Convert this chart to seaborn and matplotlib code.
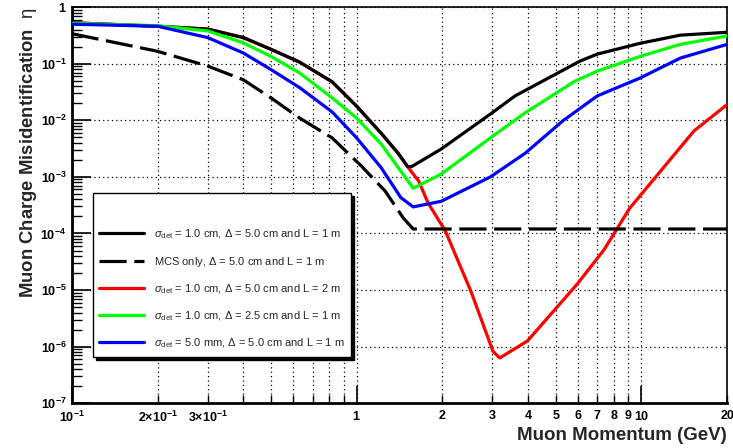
import pandas as pd
import seaborn as sns
import matplotlib.pyplot as plt

# ------------------------------
# Data
# ------------------------------

# sigma_det = 1.0 cm, Delta = 5.0 cm, L = 1 m
black_x = [0.1, 0.2, 0.3, 0.4, 0.5, 0.63, 0.82, 1.0, 1.22, 1.4, 1.51, 1.56,
           1.98, 2.95, 3.6, 6.1, 7.0, 9.9, 13.7, 20]
black_y = [0.53, 0.46, 0.41, 0.29, 0.18, 0.107, 0.048, 0.0178, 0.0059, 0.0026,
           0.00152, 0.00152, 0.0031, 0.0129, 0.027, 0.112, 0.148, 0.23,
           0.32, 0.36]

# MCS only
mcs_x = [0.1, 0.2, 0.3, 0.4, 0.5, 0.63, 0.82, 1.04, 1.26, 1.46, 1.58, 20]
mcs_y = [0.34, 0.166, 0.091, 0.052, 0.025, 0.011, 0.0049, 0.00155, 0.00056,
         0.000186, 0.00012, 0.00012]

# sigma_det = 1.0 cm, Delta = 5.0 cm, L = 2 m
red_x = [0.1, 0.2, 0.3, 0.4, 0.5, 0.63, 0.82, 1.0, 1.22, 1.4, 1.51, 1.65,
         1.78, 2.05, 2.52, 3.01, 3.18, 3.98, 5.97, 7.4, 9.1, 15.3, 20]
red_y = [0.53, 0.46, 0.41, 0.29, 0.18, 0.107, 0.048, 0.0178, 0.0059, 0.0026,
         0.00152, 0.00085, 0.00035, 0.00011, 9.5e-6, 8.3e-7, 6.3e-7, 1.26e-6,
         1.3e-5, 5.2e-5, 2.8e-4, 6.5e-3, 1.9e-2]

# sigma_det = 1.0 cm, Delta = 2.5 cm, L = 1 m
green_x = [0.1, 0.2, 0.3, 0.4, 0.5, 0.63, 0.82, 1.0, 1.22, 1.43, 1.58,
           1.98, 2.95, 3.9, 5.83, 7.0, 9.9, 13.7, 20]
green_y = [0.52, 0.47, 0.38, 0.234, 0.135, 0.069, 0.025, 0.011, 0.0038,
           0.00126, 0.00063, 0.00112, 0.0049, 0.0135, 0.049, 0.074,
           0.135, 0.22, 0.31]

# sigma_det = 5.0 mm, Delta = 5.0 cm, L = 1 m
blue_x = [0.1, 0.2, 0.3, 0.4, 0.5, 0.63, 0.82, 1.0, 1.22, 1.43, 1.58,
          1.98, 2.95, 3.9, 5.3, 7.0, 9.9, 13.7, 20]
blue_y = [0.5, 0.46, 0.29, 0.155, 0.079, 0.038, 0.0141, 0.0049, 0.00145,
          0.00043, 0.000295, 0.00037, 0.00100, 0.0026, 0.0098, 0.027,
          0.056, 0.126, 0.22]

labels = [
    r"$\sigma_{\rm det}$ = 1.0 cm, $\Delta$ = 5.0 cm and L = 1 m",
    r"MCS only, $\Delta$ = 5.0 cm and L = 1 m",
    r"$\sigma_{\rm det}$ = 1.0 cm, $\Delta$ = 5.0 cm and L = 2 m",
    r"$\sigma_{\rm det}$ = 1.0 cm, $\Delta$ = 2.5 cm and L = 1 m",
    r"$\sigma_{\rm det}$ = 5.0 mm, $\Delta$ = 5.0 cm and L = 1 m",
]

x_major = [0.1, 1, 10]
x_major_labels = [r"$\mathbf{10^{-1}}$", r"$\mathbf{1}$", r"$\mathbf{10}$"]
x_minor = [0.2, 0.3, 0.4, 0.5, 0.6, 0.7, 0.8, 0.9,
           2, 3, 4, 5, 6, 7, 8, 9, 20]
x_minor_labels = [r"$\mathbf{2{\times}10^{-1}}$", r"$\mathbf{3{\times}10^{-1}}$",
                  "", "", "", "", "", "",
                  "2", "3", "4", "5", "6", "7", "8", "9", "20"]
y_major = [1e-7, 1e-6, 1e-5, 1e-4, 1e-3, 1e-2, 1e-1, 1]
y_major_labels = [r"$\mathbf{10^{-7}}$", r"$\mathbf{10^{-6}}$", r"$\mathbf{10^{-5}}$",
                  r"$\mathbf{10^{-4}}$", r"$\mathbf{10^{-3}}$", r"$\mathbf{10^{-2}}$",
                  r"$\mathbf{10^{-1}}$", r"$\mathbf{1}$"]

# ------------------------------
# Style
# ------------------------------

sns.set_theme(style="white")
plt.rcParams["font.family"] = ["Liberation Sans", "DejaVu Sans"]
plt.rcParams["mathtext.fontset"] = "custom"
plt.rcParams["mathtext.rm"] = "Liberation Sans"
plt.rcParams["mathtext.it"] = "Liberation Sans:italic"
plt.rcParams["mathtext.bf"] = "Liberation Sans:bold"

fig = plt.figure(figsize=(7.33, 4.48), dpi=100)
ax = fig.add_axes([0.098, 0.1, 0.894, 0.884])

lw = 2.3
sns.lineplot(x=black_x, y=black_y, color="black", lw=lw, label=labels[0],
             sort=False, zorder=4, ax=ax)
sns.lineplot(x=mcs_x, y=mcs_y, color="black", lw=lw, label=labels[1],
             linestyle=(0, (8.5, 2.4)), sort=False, zorder=4, ax=ax)
sns.lineplot(x=red_x, y=red_y, color="#ff0000", lw=lw, label=labels[2],
             sort=False, zorder=3, ax=ax)
sns.lineplot(x=green_x, y=green_y, color="#00ff00", lw=lw, label=labels[3],
             sort=False, zorder=4, ax=ax)
sns.lineplot(x=blue_x, y=blue_y, color="#0000ff", lw=lw, label=labels[4],
             sort=False, zorder=4, ax=ax)

ax.set_xscale("log")
ax.set_yscale("log")
ax.set_xlim(0.1, 20)
ax.set_ylim(1e-7, 1)

ax.set_xticks(x_major, x_major_labels)
ax.set_xticks(x_minor, x_minor_labels, minor=True)
ax.set_yticks(y_major, y_major_labels)
y_minor = [m * d for d in y_major[:-1] for m in range(2, 10)]
ax.set_yticks(y_minor, minor=True)
ax.yaxis.set_minor_formatter(plt.NullFormatter())

ax.tick_params(which="both", direction="in", colors="black",
               labelsize=9, bottom=True, left=True)
ax.tick_params(axis="x", which="major", length=12, width=1.2, pad=5)
ax.tick_params(axis="x", which="minor", length=6, width=1, pad=5)
ax.tick_params(axis="y", which="major", length=14, width=1.2, pad=4)
ax.tick_params(axis="y", which="minor", length=7, width=1)
for t in ax.get_xticklabels(minor=True):
    t.set_fontweight("bold")

ax.grid(which="major", axis="both", ls=(0, (1, 2.5)), color="black", lw=0.9)
ax.grid(which="minor", axis="x", ls=(0, (1, 2.5)), color="black", lw=0.9)

for side in ["left", "bottom"]:
    ax.spines[side].set_linewidth(2)
for side in ["top", "right"]:
    ax.spines[side].set_linewidth(1.2)
for s in ax.spines.values():
    s.set_color("black")

ax.set_xlabel("Muon Momentum (GeV)", fontsize=13.5, fontweight="bold",
              loc="right", labelpad=1)
ax.set_ylabel(r"Muon Charge Misidentification  $\mathrm{\eta}$", fontsize=13.3,
              fontweight="bold", loc="top", labelpad=1)

leg = ax.legend(loc="upper left", bbox_to_anchor=(0.032, 0.53),
                fontsize=8, title=" ", title_fontsize=10, frameon=True,
                fancybox=False, edgecolor="black", framealpha=1,
                handlelength=4.0, handletextpad=0.9, labelspacing=1.22,
                borderpad=0.6, borderaxespad=0,
                shadow={"color": "black", "alpha": 1})
leg.get_frame().set_linewidth(1)

fig.savefig("out.png", dpi=100)
